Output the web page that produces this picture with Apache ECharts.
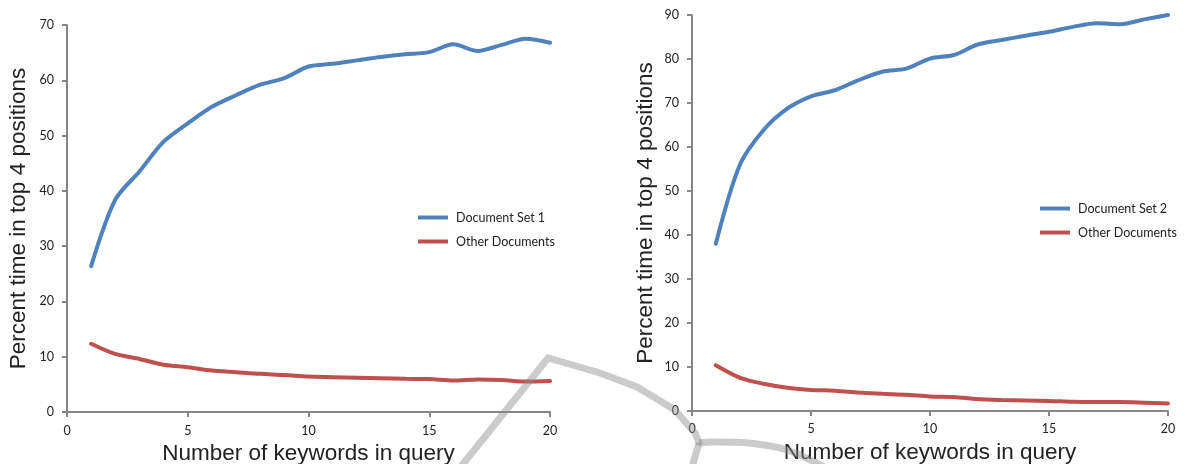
<!DOCTYPE html>
<html><head><meta charset="utf-8">
<script src="https://cdn.jsdelivr.net/npm/echarts@6/dist/echarts.min.js"></script>
<style>html,body{margin:0;padding:0;background:#fff}#c{width:1186px;height:464px}</style>
</head><body><div id="c"></div>
<script>
const keywords = [1,2,3,4,5,6,7,8,9,10,11,12,13,14,15,16,17,18,19,20];
const docSet1 = [26.4,38.4,43.5,48.9,52.2,55.2,57.3,59.2,60.4,62.5,63.0,63.6,64.2,64.7,65.1,66.5,65.3,66.4,67.5,66.8];
const other1 = [12.35,10.5,9.6,8.55,8.1,7.5,7.2,6.9,6.7,6.4,6.3,6.2,6.1,6.0,5.95,5.7,5.9,5.8,5.5,5.6];
const docSet2 = [38.0,55.8,63.8,68.7,71.5,72.9,75.2,77.1,77.8,80.1,80.9,83.3,84.3,85.3,86.2,87.3,88.1,87.9,89.0,90.0];
const other2 = [10.4,7.6,6.2,5.3,4.8,4.6,4.2,3.9,3.7,3.3,3.2,2.7,2.5,2.4,2.3,2.1,2.05,2.05,1.9,1.7];
const xTitle = 'Number of keywords in query';
const yTitle = 'Percent time in top 4 positions';

const BLUE = '#4F81BD', RED = '#C0504D', AX = '#868686';
const tickFont = {fontFamily: 'Lato', fontSize: 12.5, color: '#222'};
const titleFont = {fontFamily: 'Liberation Sans', fontSize: 22.5, color: '#222'};

function xAxis(gi, gap, margin){
  return {type:'value', gridIndex:gi, min:0, max:20, interval:5,
    name:xTitle, nameLocation:'middle', nameGap:gap, nameTextStyle:titleFont,
    axisLine:{show:true, lineStyle:{color:AX, width:2}},
    axisTick:{show:true, length:5, lineStyle:{color:AX, width:2}},
    axisLabel:Object.assign({margin:margin}, tickFont),
    splitLine:{show:false}};
}
function yAxis(gi, max, gap, margin){
  return {type:'value', gridIndex:gi, min:0, max:max, interval:10,
    name:yTitle, nameLocation:'middle', nameGap:gap, nameTextStyle:titleFont,
    axisLine:{show:true, lineStyle:{color:AX, width:2}},
    axisTick:{show:true, length:5, lineStyle:{color:AX, width:2}},
    axisLabel:Object.assign({margin:margin}, tickFont),
    splitLine:{show:false}};
}
function line(name, data, color, gi){
  return {name:name, type:'line', xAxisIndex:gi, yAxisIndex:gi, smooth:0.3,
    symbol:'none', data:keywords.map((k,i)=>[k,data[i]]),
    lineStyle:{color:color, width:4, cap:'round'}, itemStyle:{color:color}};
}
const legendCommon = {orient:'vertical', icon:'rect', itemWidth:30, itemHeight:4, itemGap:11,
  textStyle:{fontFamily:'Lato', fontSize:12.5, color:'#222', padding:[0,0,0,3]}};

const wm = {stroke:'rgba(140,140,140,0.45)', lineWidth:7, fill:null, lineJoin:'miter'};

const chart = echarts.init(document.getElementById('c'), null, {renderer:'canvas'});
chart.setOption({
  animation:false,
  grid:[{left:67, top:25, width:483, height:387, outerBoundsMode:'none', containLabel:false},
        {left:692, top:15, width:476, height:396, outerBoundsMode:'none', containLabel:false}],
  xAxis:[xAxis(0,29,12), xAxis(1,30,11)],
  yAxis:[yAxis(0,70,37,13), yAxis(1,90,35,13)],
  legend:[
    Object.assign({left:413, top:206, data:['Document Set 1','Other Documents']}, legendCommon),
    Object.assign({left:1035, top:197, data:['Document Set 2','Other Documents']}, legendCommon)
  ],
  series:[
    line('Document Set 1', docSet1, BLUE, 0),
    line('Other Documents', other1, RED, 0),
    line('Document Set 2', docSet2, BLUE, 1),
    line('Other Documents', other2, RED, 1)
  ],
  graphic:[
    {type:'polyline', z:100, silent:true, shape:{points:[[455,474],[548,358],[600,373],[637,387],[675,410],[695,433],[700,445]]}, style:wm},
    {type:'polyline', z:100, silent:true, shape:{smooth:0.3, points:[[699,443],[690,474]]}, style:wm},
    {type:'polyline', z:100, silent:true, shape:{smooth:0.3, points:[[699,443],[712,442],[749,443],[787,450],[830,470]]}, style:wm}
  ]
});
</script></body></html>
